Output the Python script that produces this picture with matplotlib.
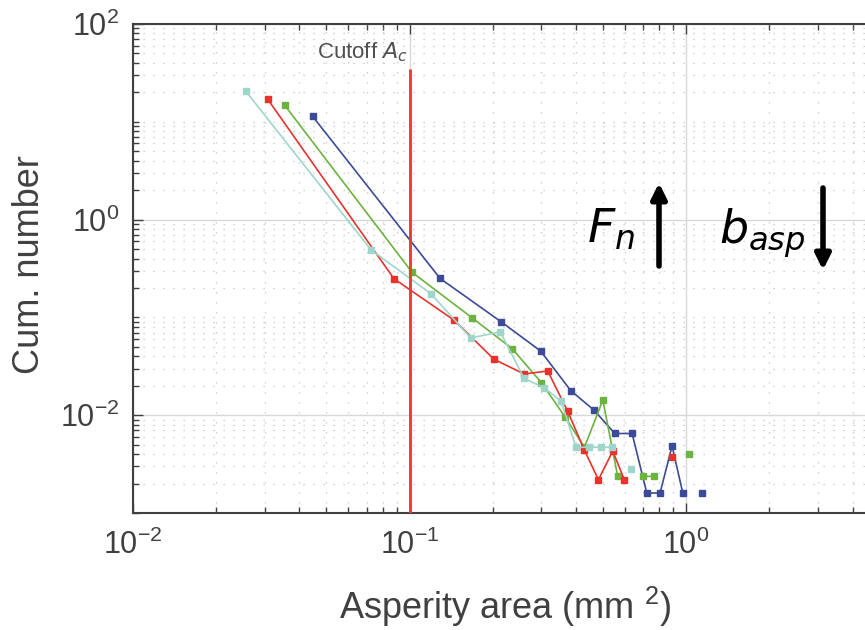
import numpy as np
import matplotlib
matplotlib.use('Agg')
import matplotlib.pyplot as plt
from matplotlib import ticker, font_manager

nan = np.nan

# asperity area (mm^2) and cumulative number per series
cyan_x = [0.0256, 0.0726, 0.1197, 0.1665, 0.213, 0.2596, 0.307, 0.353, 0.400, 0.447, 0.493, 0.541, nan, 0.633]
cyan_y = [20.5, 0.49, 0.174, 0.0617, 0.071, 0.0238, 0.019, 0.014, 0.0047, 0.0047, 0.0047, 0.0047, nan, 0.00284]

red_x = [0.0307, 0.0879, 0.145, 0.202, 0.2596, 0.316, 0.373, 0.429, 0.482, 0.543, 0.598, nan, 0.888]
red_y = [17.0, 0.248, 0.0936, 0.0373, 0.0264, 0.0283, 0.011, 0.00438, 0.00219, 0.0043, 0.00219, nan, 0.00373]

green_x = [0.0354, 0.102, 0.168, 0.235, 0.300, 0.365, 0.429, 0.500, 0.566, nan, 0.701, 0.764, nan, 1.028]
green_y = [14.7, 0.29, 0.0995, 0.0479, 0.0215, 0.0096, 0.0047, 0.01426, 0.00237, nan, 0.00237, 0.00237, nan, 0.00403]

blue_x = [0.0446, 0.129, 0.214, 0.298, 0.383, 0.465, 0.552, 0.638, 0.721, 0.805, 0.89, 0.973, nan, 1.142]
blue_y = [11.4, 0.25, 0.0905, 0.0453, 0.0178, 0.01125, 0.0065, 0.0065, 0.0016, 0.0016, 0.00485, 0.0016, nan, 0.0016]

cutoff = 0.1

names = [f.name for f in font_manager.fontManager.ttflist]
narrow = 'Liberation Sans Narrow' if 'Liberation Sans Narrow' in names else 'Liberation Sans'

plt.rcParams['font.family'] = ['Liberation Sans', 'DejaVu Sans']
plt.rcParams['mathtext.fontset'] = 'custom'
plt.rcParams['mathtext.rm'] = 'Liberation Sans'
plt.rcParams['mathtext.it'] = 'DejaVu Sans:italic'

grey = '#404040'

fig = plt.figure(figsize=(8.65, 6.3), dpi=100)
ax = fig.add_axes([133/865, 117/630, 732/865, 489/630])
ax.set_xscale('log')
ax.set_yscale('log')

ax.plot(blue_x, blue_y, '-s', color='#3c4a98', lw=1.2, ms=5)
ax.plot(green_x, green_y, '-s', color='#6cb33f', lw=1.2, ms=5)
ax.plot(red_x, red_y, '-s', color='#e8332c', lw=1.2, ms=5)
ax.plot(cyan_x, cyan_y, '-s', color='#9fd6cc', lw=1.2, ms=5)

ax.vlines(cutoff, 1e-3, 34.5, color='#f03c2c', lw=2.1, zorder=5)
fig.text(317/865, 1 - 52/630, 'Cutoff $A_c$', ha='left', va='center',
         fontsize=16, color='#505050', family=narrow)

ax.set_xlim(1e-2, 10**0.647)
ax.set_ylim(1e-3, 1e2)

ax.xaxis.set_major_locator(ticker.LogLocator(base=10))
ax.yaxis.set_major_locator(ticker.LogLocator(base=100))
ax.xaxis.set_minor_locator(ticker.LogLocator(base=10, subs=np.arange(1, 10), numticks=20))
ax.yaxis.set_minor_locator(ticker.LogLocator(base=10, subs=np.arange(1, 10), numticks=20))
fmt = ticker.FuncFormatter(lambda v, p: '$\\mathregular{10^{%d}}$' % round(np.log10(v)))
ax.xaxis.set_major_formatter(fmt)
ax.yaxis.set_major_formatter(fmt)
ax.xaxis.set_minor_formatter(ticker.NullFormatter())
ax.yaxis.set_minor_formatter(ticker.NullFormatter())

ax.grid(which='major', color='#d8d8d8', lw=1, ls='-')
ax.grid(which='minor', color='#c4c4c4', lw=0.9, ls=(0, (1, 7)))
ax.set_axisbelow(True)

ax.tick_params(which='both', direction='in', top=True, right=False, color=grey, width=1)
ax.tick_params(which='major', length=7, labelsize=22, labelcolor=grey)
ax.tick_params(axis='x', which='major', pad=12)
ax.tick_params(axis='y', which='major', pad=10)
ax.tick_params(which='minor', length=4)
for s in ['left', 'bottom', 'top']:
    ax.spines[s].set_color(grey)
    ax.spines[s].set_linewidth(1.5)
ax.spines['right'].set_visible(False)

fig.text(505/865, 1 - 607/630, 'Asperity area (mm $\\mathregular{^2}$)', ha='center', va='center',
         fontsize=26, color=grey, family=narrow)
fig.text(30/865, 1 - 265/630, 'Cum. number', ha='center', va='center', rotation=90,
         fontsize=26, color=grey, family=narrow)

# force and asperity arrows
fig.text(587/865, 1 - 243/630, '$F_n$', fontsize=34, ha='left', va='baseline')
fig.text(719/865, 1 - 243/630, '$b_{asp}$', fontsize=33, ha='left', va='baseline')
arrow = dict(arrowstyle='-|>,head_length=0.9,head_width=0.45', lw=4, color='black',
             shrinkA=0, shrinkB=0)
ax.annotate('', xy=(659, 630 - 183), xytext=(659, 630 - 266), xycoords='figure pixels',
            textcoords='figure pixels', arrowprops=arrow)
ax.annotate('', xy=(823, 630 - 270), xytext=(823, 630 - 188), xycoords='figure pixels',
            textcoords='figure pixels', arrowprops=arrow)

fig.savefig('out.png', dpi=100)
